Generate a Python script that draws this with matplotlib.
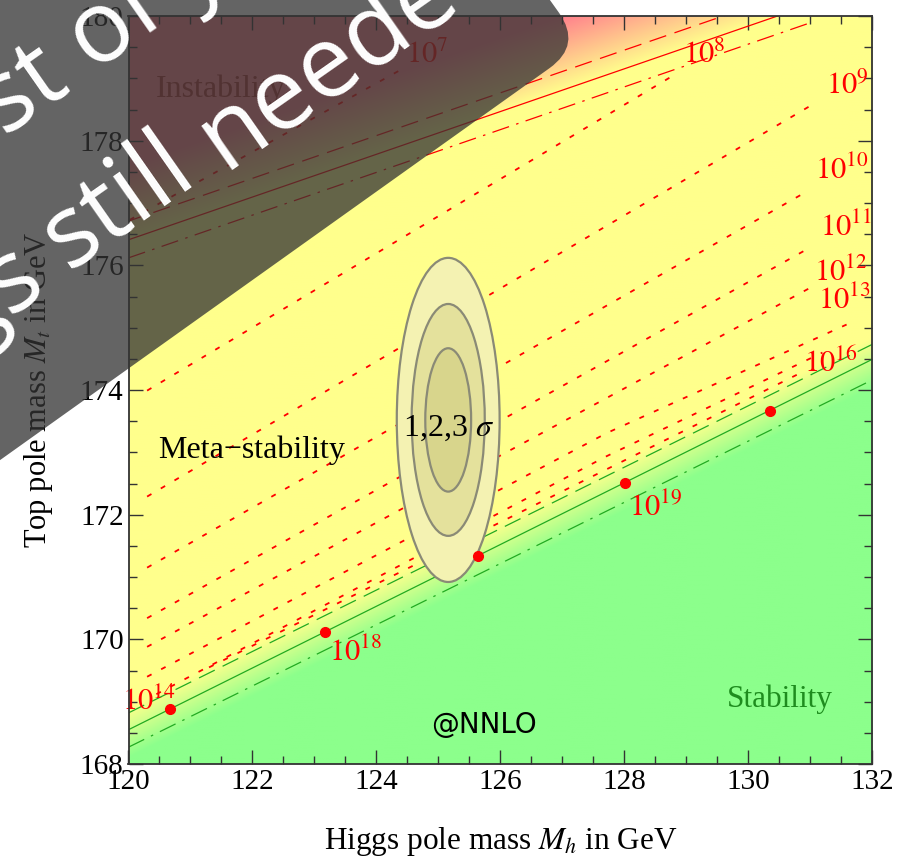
import numpy as np
import matplotlib
matplotlib.use('Agg')
import matplotlib.pyplot as plt
import matplotlib.transforms as mtransforms
from matplotlib.patches import Ellipse, FancyBboxPatch
from matplotlib.ticker import MultipleLocator

plt.rcParams['font.family'] = 'serif'
plt.rcParams['font.serif'] = ['Liberation Serif', 'DejaVu Serif']
plt.rcParams['mathtext.fontset'] = 'stix'

W, H = 911, 858

# stability / instability boundaries (GeV)
stab_x = [120.0, 132.0]
stab_mid = [168.55, 174.49]
stab_hi = [168.82, 174.73]
stab_lo = [168.27, 174.16]
inst_x = [120.0, 131.0]
inst_mid = [176.41, 180.18]
inst_hi = [176.71, 180.48]
inst_lo = [176.12, 179.89]

# instability-scale contours (dotted)
contours = [
    ([120.02, 124.49], [176.73, 179.19]),
    ([120.30, 128.85], [173.99, 179.08]),
    ([120.30, 131.04], [172.29, 178.58]),
    ([120.30, 130.94], [171.15, 177.18]),
    ([120.30, 130.99], [170.34, 176.28]),
    ([120.30, 131.04], [169.88, 175.66]),
    ([120.30, 127.72, 131.59], [169.40, 173.31, 175.05]),
    ([120.45, 127.70, 131.20], [169.12, 172.93, 174.60]),
    ([121.30, 127.70, 130.90], [169.55, 172.72, 174.30]),
]
scale_labels = ['7', '8', '9', '10', '11', '12', '13', '14', '16', '18', '19']
scale_lx = [124.83, 129.30, 131.60, 131.52, 131.58, 131.49, 131.55, 120.33, 131.33, 123.67, 128.51]
scale_ly = [179.37, 179.37, 178.87, 177.52, 176.60, 175.88, 175.43, 169.01, 174.42, 169.78, 172.11]

dots_x = [120.67, 123.17, 125.64, 128.01, 130.35]
dots_y = [168.88, 170.12, 171.34, 172.51, 173.67]

# measured Mh, Mt with 1,2,3 sigma ellipses
mh0, mt0 = 125.16, 173.52
ell_w = [0.37, 0.59, 0.83]
ell_h = [1.15, 1.86, 2.60]
ell_fill = ['#d8d58c', '#e4e19c', '#f4f2b2']

yellow = np.array([255, 255, 140]) / 255
green = np.array([140, 255, 140]) / 255
pink = np.array([255, 128, 140]) / 255

fig = plt.figure(figsize=(W / 100, H / 100), dpi=100)
ax = fig.add_axes([128.5 / W, 94 / H, 743.5 / W, 748 / H])

# background shading
gx = np.linspace(120, 132, 500)
gy = np.linspace(168, 180, 500)
X, Y = np.meshgrid(gx, gy)
slope_i = (inst_mid[1] - inst_mid[0]) / (inst_x[1] - inst_x[0])
d_inst = Y - (inst_mid[0] + slope_i * (X - inst_x[0]))
slope_s = (stab_mid[1] - stab_mid[0]) / (stab_x[1] - stab_x[0])
d_stab = Y - (stab_mid[0] + slope_s * (X - stab_x[0]))
t_p = np.clip(d_inst / 1.2, 0, 1)[..., None]
t_g = np.clip((0.35 - d_stab) / 0.8, 0, 1)[..., None]
img = yellow * (1 - t_p) + pink * t_p
img = img * (1 - t_g) + green * t_g
ax.imshow(img, extent=[120, 132, 168, 180], origin='lower', aspect='auto',
          interpolation='bilinear', zorder=0)

long_dash = (0, (14, 7))
dash_dot = (0, (14, 6, 2, 6))
ax.plot(inst_x, inst_mid, color='red', lw=0.9, zorder=2)
ax.plot(inst_x, inst_hi, color='red', lw=0.9, ls=long_dash, zorder=2)
ax.plot(inst_x, inst_lo, color='red', lw=0.9, ls=dash_dot, zorder=2)
ax.plot(stab_x, stab_mid, color='#22aa22', lw=0.9, zorder=2)
ax.plot(stab_x, stab_hi, color='#22aa22', lw=0.9, ls=long_dash, zorder=2)
ax.plot(stab_x, stab_lo, color='#22aa22', lw=0.9, ls=dash_dot, zorder=2)

for cx, cy in contours:
    ax.plot(cx, cy, color='red', lw=1.3, ls=(0, (2.8, 6.0)), zorder=3)

for i in range(3)[::-1]:
    ax.add_patch(Ellipse((mh0, mt0), 2 * ell_w[i], 2 * ell_h[i], facecolor=ell_fill[i],
                         edgecolor='#8a8a76', lw=1.6, zorder=4))

ax.plot(dots_x, dots_y, 'o', color='red', ms=7, zorder=5)

for lab, lx, ly in zip(scale_labels, scale_lx, scale_ly):
    ax.text(lx, ly, r'$10^{%s}$' % lab, color='red', fontsize=22,
            ha='center', va='center', zorder=6)

ax.text(121.48, 178.83, 'Instability', color='#b03030', fontsize=23, ha='center', va='center')
ax.text(121.99, 173.04, 'Meta\u2212stability', color='black', fontsize=23, ha='center', va='center', zorder=6)
ax.text(130.51, 169.04, 'Stability', color='#1e8c1e', fontsize=22.5, ha='center', va='center', zorder=6)
ax.text(125.17, 173.39, r'1,2,3 $\sigma$', color='black', fontsize=23, ha='center', va='center', zorder=6)
ax.text(125.73, 168.63, '@NNLO', color='black', fontsize=20, family='DejaVu Sans',
        ha='center', va='center', zorder=6)

ax.set_xlim(120, 132)
ax.set_ylim(168, 180)
ax.xaxis.set_major_locator(MultipleLocator(2))
ax.yaxis.set_major_locator(MultipleLocator(2))
ax.xaxis.set_minor_locator(MultipleLocator(0.5))
ax.yaxis.set_minor_locator(MultipleLocator(0.5))
ax.tick_params(which='both', direction='in', top=True, right=True, labelsize=21, color='#333333')
ax.tick_params(which='major', length=10, width=1.0)
ax.tick_params(which='minor', length=6, width=1.0)
for sp in ax.spines.values():
    sp.set_color('#333333')
    sp.set_linewidth(1.3)
    sp.set_zorder(7)
ax.set_xlabel(r'Higgs pole mass $M_h$ in GeV', fontsize=22.5, labelpad=22)
ax.set_ylabel(r'Top pole mass $M_t$ in GeV', fontsize=22, labelpad=18)

# rotated banner drawn over the figure, in pixel coordinates (y up)
ang = 35.5
banner = FancyBboxPatch((-1500, 0), 1500, 700, boxstyle='round,pad=0,rounding_size=40',
                        facecolor='#333333', edgecolor='none', alpha=0.76, zorder=20)
banner.set_transform(mtransforms.Affine2D().rotate_deg(ang).translate(582, H - 45))
fig.add_artist(banner)

# banner words: (text, baseline x, baseline y in pixels from top-left, alignment)
words = [('est', 72, 86, 'right'), ('of', 92, 70, 'left'), ('y', 190, 4, 'left'),
         ('gs', 49, 290, 'right'), ('still', 68, 270, 'left'), ('needed', 224, 170, 'left')]
for txt, px, py, ha in words:
    fig.text(px / W, 1 - py / H, txt, color='white', fontsize=72, family='Open Sans',
             rotation=35, rotation_mode='anchor', ha=ha, va='baseline', zorder=21)

fig.savefig('out.png', dpi=100)
